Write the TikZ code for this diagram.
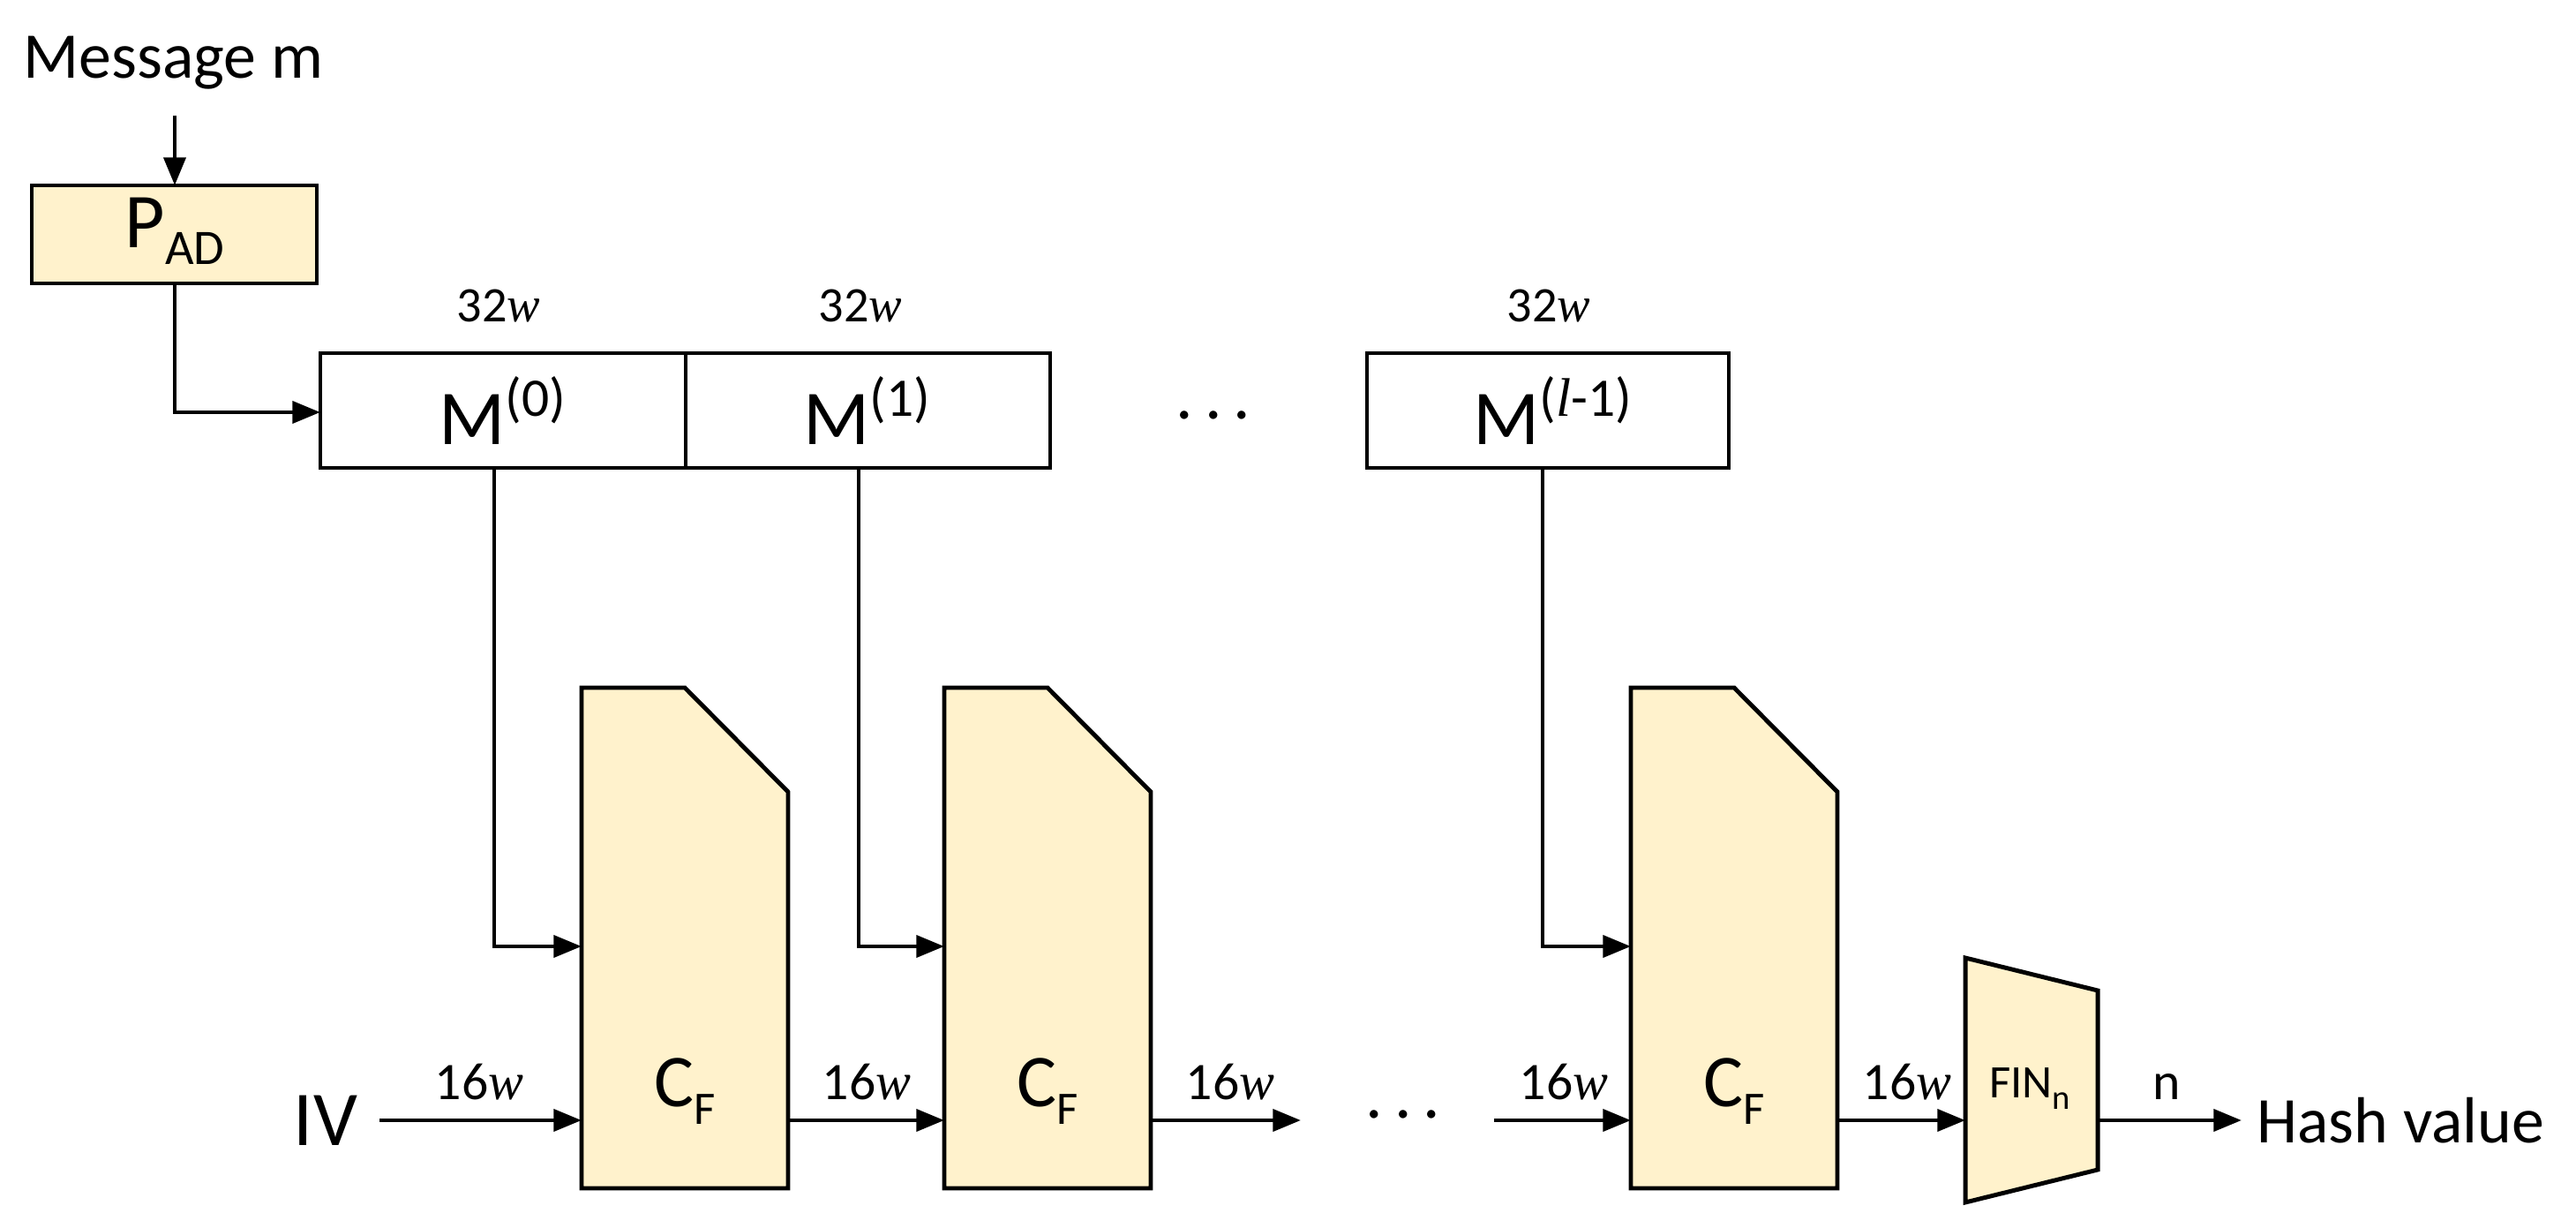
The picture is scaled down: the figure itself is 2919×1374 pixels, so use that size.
\documentclass[tikz,border=0pt]{standalone}
\usepackage{fontspec}
\setmainfont{Carlito}
\newfontfamily\wf{Liberation Serif}
\usetikzlibrary{arrows.meta}
\newcommand{\ww}{{\wf\itshape w}}
\definecolor{boxy}{HTML}{FFF2CC}
\begin{document}
\begin{tikzpicture}[x=0.01cm,y=-0.01cm,
  ln/.style={line width=1.4pt},
  ar/.style={ln,-{Triangle[length=9pt,width=7pt]}},
  yb/.style={draw,line width=1.4pt,fill=boxy},
  lab/.style={font=\fontsize{17}{20}\selectfont,anchor=base},
  dots/.style={font=\fontsize{22}{26}\selectfont}]
\useasboundingbox (0,0) rectangle (2919,1374);
\node[anchor=west,font=\fontsize{21}{24}\selectfont] (msg) at (14,71) {Message m};
\draw[yb] (36,210) rectangle (359,321);
\node[font=\fontsize{25}{28}\selectfont] (padt) at (198,262) {P\raisebox{-0.45ex}{\fontsize{16}{18}\selectfont AD}};
\coordinate (pt) at (198,210); \coordinate (pb) at (198,321);
\draw[ar] (198,131) -- (pt);
% M boxes
\draw[ln] (363,400) rectangle (1190,530); \draw[ln] (777,400) -- (777,530);
\draw[ln] (1549,400) rectangle (1959,530);
\node[font=\fontsize{25}{28}\selectfont] (m0) at (570,465) {M\textsuperscript{(0)}};
\node[font=\fontsize{25}{28}\selectfont] (m1) at (983,465) {M\textsuperscript{(1)}};
\node[font=\fontsize{25}{28}\selectfont] (ml) at (1760,465) {M\textsuperscript{({\wf\itshape l}-1)}};
\coordinate (min) at (363,467);
\draw[ar] (pb) |- (min);
\foreach \x in {565,975,1755}{\node[lab,font=\fontsize{16}{20}\selectfont] at (\x,365) {32\ww};}
\node[dots] at (1375,470) {.\,.\,.};
\node[dots] at (1590,1262) {.\,.\,.};
% CF blocks
\foreach \x/\n in {659/a,1070/b,1848/c}{
  \draw[yb] (\x,779) -- (\x+117,779) -- (\x+234,897) -- (\x+234,1346) -- (\x,1346) -- cycle;
  \node[font=\fontsize{24}{28}\selectfont] (cf\n) at (\x+117,1236) {C\raisebox{-0.5ex}{\fontsize{15}{18}\selectfont F}};
}
\coordinate (m0b) at (560,530); \coordinate (m1b) at (973,530); \coordinate (mlb) at (1748,530);
\draw[ar] (m0b) |- (659,1072);
\draw[ar] (m1b) |- (1070,1072);
\draw[ar] (mlb) |- (1848,1072);
% FIN
\draw[yb] (2227,1085) -- (2377,1122) -- (2377,1325) -- (2227,1362) -- cycle;
\node[font=\fontsize{15}{17}\selectfont] (fin) at (2300,1233) {FIN\raisebox{-0.5ex}{\fontsize{11}{13}\selectfont n}};
% bottom chain
\node[font=\fontsize{25}{28}\selectfont] (iv) at (369,1269) {IV};
\draw[ar] (430,1269) -- (659,1269);
\draw[ar] (893,1269) -- (1070,1269);
\draw[ar] (1304,1269) -- (1474,1269);
\draw[ar] (1693,1269) -- (1848,1269);
\draw[ar] (2082,1269) -- (2227,1269);
\draw[ar] (2377,1269) -- (2540,1269);
\foreach \x in {543,982,1394,1772,2161}{\node[lab] at (\x,1245) {16\ww};}
\node[lab] at (2455,1245) {n};
\node[anchor=west,font=\fontsize{21}{24}\selectfont] (hash) at (2545,1269) {Hash value};
\end{tikzpicture}
\end{document}
